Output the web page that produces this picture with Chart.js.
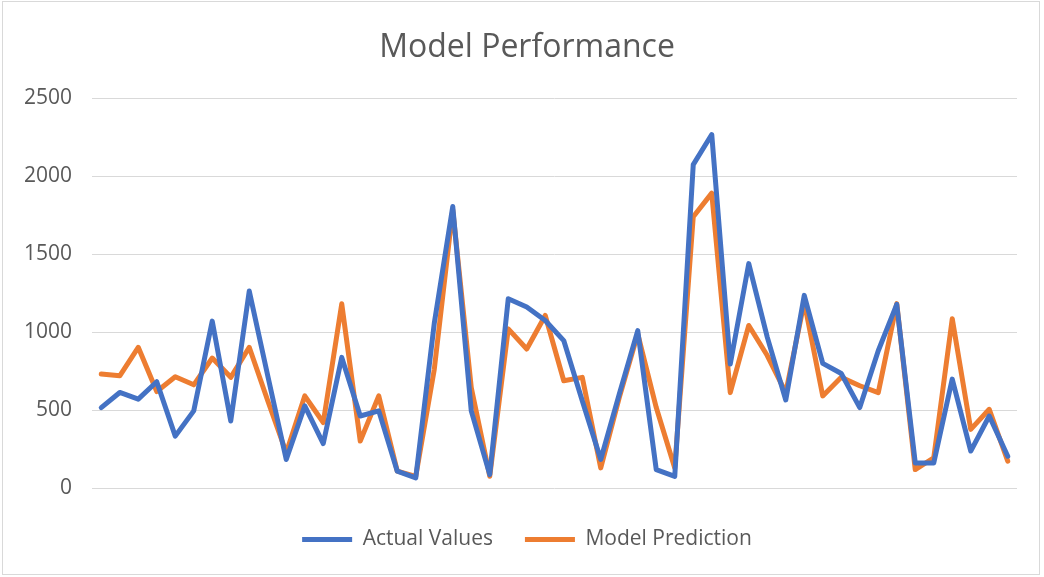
<!DOCTYPE html>
<html>
<head>
<meta charset="utf-8">
<script src="https://cdn.jsdelivr.net/npm/chart.js@4.4.1/dist/chart.umd.min.js"></script>
<style>
    html, body { margin: 0; padding: 0; background: #fff; }
    #wrap { position: relative; width: 1044px; height: 577px; }
    #frame { position: absolute; left: 2px; top: 1px; width: 1036px; height: 572px; border: 1px solid #d9d9d9; pointer-events: none; }
</style>
</head>
<body>
<div id="wrap">
    <canvas id="perfChart" width="1044" height="577"></canvas>
    <div id="frame"></div>
</div>
<script>
// Model Performance - actual values vs model prediction
const labels = [
    '1', '2', '3', '4', '5', '6', '7', '8', '9', '10',
    '11', '12', '13', '14', '15', '16', '17', '18', '19', '20',
    '21', '22', '23', '24', '25', '26', '27', '28', '29', '30',
    '31', '32', '33', '34', '35', '36', '37', '38', '39', '40',
    '41', '42', '43', '44', '45', '46', '47', '48', '49', '50'
];
const actualValues = [
    516, 613, 570, 682, 333, 495, 1071, 430, 1264, 720,
    183, 527, 285, 838, 462, 495, 108, 65, 1056, 1806,
    495, 86, 1215, 1161, 1075, 946, 560, 183, 602, 1010,
    118, 75, 2075, 2268, 795, 1440, 968, 565, 1236, 800,
    735, 516, 881, 1178, 161, 161, 699, 237, 462, 204
];
const modelPrediction = [
    731, 720, 903, 619, 714, 662, 834, 710, 903, 560,
    226, 591, 420, 1182, 301, 591, 108, 75, 760, 1785,
    645, 75, 1021, 892, 1107, 688, 710, 129, 580, 989,
    516, 129, 1741, 1892, 612, 1043, 850, 612, 1193, 591,
    710, 656, 612, 1183, 118, 194, 1086, 376, 505, 172
];
const yTicks = [0, 500, 1000, 1500, 2000, 2500];

const textGray = '#595959';
const gridGray = '#d9d9d9';

new Chart(document.getElementById('perfChart'), {
    type: 'line',
    data: {
        labels: labels,
        datasets: [{
            label: 'Actual Values',
            data: actualValues,
            borderColor: '#4472C4',
            backgroundColor: '#4472C4',
            borderWidth: 5,
            pointRadius: 0,
            tension: 0,
            borderJoinStyle: 'round',
            borderCapStyle: 'round'
        }, {
            label: 'Model Prediction',
            data: modelPrediction,
            borderColor: '#ED7D31',
            backgroundColor: '#ED7D31',
            borderWidth: 5,
            pointRadius: 0,
            tension: 0,
            borderJoinStyle: 'round',
            borderCapStyle: 'round'
        }]
    },
    options: {
        responsive: false,
        animation: false,
        layout: {
            padding: { left: 10, right: 0, top: 0, bottom: 17 }
        },
        plugins: {
            tooltip: { enabled: false },
            title: {
                display: true,
                text: 'Model Performance',
                color: textGray,
                font: { family: 'Open Sans', size: 32, weight: 'normal' },
                padding: { top: 29, bottom: 31 }
            },
            legend: {
                position: 'bottom',
                labels: {
                    color: textGray,
                    font: { family: 'Open Sans', size: 21 },
                    boxWidth: 50,
                    boxHeight: 5,
                    padding: 32,
                    generateLabels(chart) {
                        const items = Chart.defaults.plugins.legend.labels.generateLabels(chart);
                        items.forEach(item => { item.lineWidth = 0; });
                        return items;
                    }
                }
            }
        },
        scales: {
            x: {
                offset: true,
                ticks: { display: false },
                grid: { display: false },
                border: { display: false },
                afterFit(scale) { scale.height = 9; }
            },
            y: {
                min: 0,
                max: 2500,
                afterBuildTicks(scale) {
                    scale.ticks = yTicks.map(v => ({ value: v }));
                },
                afterFit(scale) { scale.width = 82; },
                ticks: {
                    color: textGray,
                    font: { family: 'Open Sans', size: 21 },
                    padding: 20,
                    callback: v => String(v)
                },
                grid: {
                    color: gridGray,
                    lineWidth: 1,
                    drawTicks: false
                },
                border: { display: false }
            },
            // empty right axis, only keeps the plot clear of the right edge
            yRight: {
                position: 'right',
                min: 0,
                max: 2500,
                ticks: { display: false },
                grid: { display: false, drawOnChartArea: false },
                border: { display: false },
                afterFit(scale) { scale.width = 27; }
            }
        }
    }
});
</script>
</body>
</html>
